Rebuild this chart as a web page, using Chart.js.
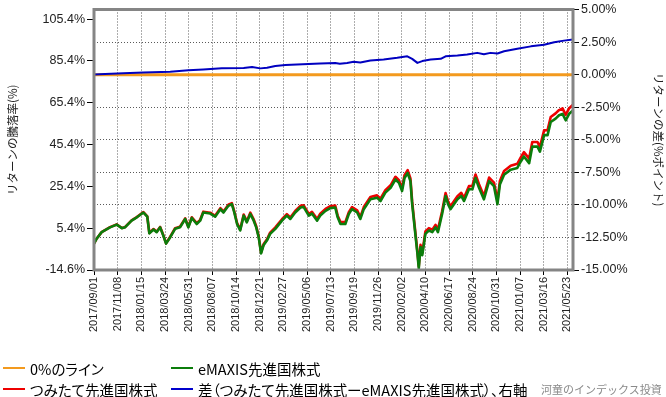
<!DOCTYPE html>
<html>
<head>
<meta charset="utf-8">
<script src="https://cdn.jsdelivr.net/npm/chart.js@4/dist/chart.umd.min.js"></script>
<style>
  html, body { margin: 0; padding: 0; background: #fff; }
  #wrap { position: relative; width: 666px; height: 397px; }
  .leg { position: absolute; display: flex; align-items: center; height: 18px;
         font-family: "Noto Sans CJK JP"; font-size: 14.5px; font-feature-settings: "palt";
         color: #000; white-space: nowrap; }
  .leg i { display: inline-block; width: 22px; height: 2px; margin-right: 5px; }
  #credit { position: absolute; left: 541px; top: 381px; font-family: "Noto Sans CJK JP";
            font-size: 11px; color: #8a8a8a; white-space: nowrap; }
</style>
</head>
<body>
<div id="wrap">
  <canvas id="c" width="666" height="397"></canvas>
  <div class="leg" style="left:3px;top:359px"><i style="background:#f39a1e"></i>0%のライン</div>
  <div class="leg" style="left:171px;top:359px"><i style="background:#0b7d0b"></i>eMAXIS先進国株式</div>
  <div class="leg" style="left:3px;top:380px"><i style="background:#ee0000"></i>つみたて先進国株式</div>
  <div class="leg" style="left:171px;top:380px"><i style="background:#0000cc"></i>差（つみたて先進国株式ーeMAXIS先進国株式）、右軸</div>
  <div id="credit">河童のインデックス投資</div>
</div>
<script>
// x axis: days since 2017/09/01, a label every 68 days
const tickDates = ['2017/09/01', '2017/11/08', '2018/01/15', '2018/03/24', '2018/05/31', '2018/08/07',
  '2018/10/14', '2018/12/21', '2019/02/27', '2019/05/06', '2019/07/13', '2019/09/19', '2019/11/26',
  '2020/02/02', '2020/04/10', '2020/06/17', '2020/08/24', '2020/10/31', '2021/01/07', '2021/03/16', '2021/05/23'];
const tickStep = 68;
const lastDay = 1376;

const leftTicks = [-14.6, 5.4, 25.4, 45.4, 65.4, 85.4, 105.4];
const rightTicks = [-15, -12.5, -10, -7.5, -5, -2.5, 0, 2.5, 5];

const stockDays = [0, 8, 22, 46, 65, 80, 89, 108, 123, 142,
  153, 159, 171, 180, 190, 199, 207, 219, 233, 247,
  262, 271, 281, 295, 305, 314, 334, 348, 363, 372,
  386, 396, 403, 411, 420, 430, 439, 449, 458, 466,
  473, 480, 487, 497, 506, 521, 540, 554, 564, 578,
  593, 602, 617, 626, 641, 650, 665, 679, 693, 700,
  708, 722, 732, 741, 756, 765, 775, 794, 813, 823,
  837, 852, 866, 876, 885, 892, 901, 909, 914, 919,
  924, 929, 933, 938, 943, 952, 962, 972, 981, 988,
  1000, 1010, 1017, 1024, 1034, 1044, 1055, 1063, 1077, 1087,
  1096, 1106, 1120, 1135, 1149, 1159, 1166, 1178, 1197, 1216,
  1226, 1235, 1250, 1259, 1274, 1281, 1293, 1303, 1312, 1326,
  1336, 1346, 1355, 1365, 1376];

// つみたて先進国株式 (%)
const tsumitate = [-2.0, 0.5, 3.5, 5.9, 7.2, 5.5, 5.9, 9.1, 10.7, 13.1,
  11.1, 3.1, 5.0, 3.7, 6.0, 2.1, -1.8, 1.3, 5.4, 6.1,
  10.1, 6.1, 10.6, 7.8, 9.4, 13.3, 12.8, 11.3, 15.0, 13.4,
  16.6, 17.4, 13.4, 7.9, 4.8, 11.9, 8.7, 12.8, 9.9, 6.3,
  1.6, -6.2, -2.3, 0.1, 3.3, 5.8, 9.7, 12.1, 10.5, 13.6,
  16.1, 16.4, 12.2, 13.2, 9.8, 12.3, 14.6, 15.9, 16.2, 11.4,
  8.3, 8.3, 13.1, 15.5, 13.9, 10.7, 15.5, 20.3, 21.1, 19.5,
  23.6, 25.9, 30.0, 28.4, 24.5, 30.8, 33.2, 29.2, 18.1, 10.1,
  2.1, -5.8, -12.9, -2.6, -6.5, 3.8, 5.4, 4.7, 7.0, 4.7,
  13.5, 22.2, 18.3, 15.9, 18.3, 20.7, 22.3, 19.9, 25.5, 25.6,
  31.1, 26.4, 20.8, 29.6, 27.2, 18.5, 28.0, 32.8, 35.3, 36.2,
  39.3, 41.8, 38.7, 46.6, 46.6, 44.3, 52.2, 52.3, 58.6, 60.3,
  61.9, 62.7, 59.6, 62.8, 64.4];

// eMAXIS先進国株式 (%)
const emaxis = [-2.0, 0.5, 3.5, 5.8, 7.1, 5.4, 5.8, 9.0, 10.6, 12.9,
  10.9, 2.9, 4.8, 3.5, 5.8, 1.9, -2.0, 1.1, 5.1, 5.8,
  9.8, 5.8, 10.3, 7.4, 9.0, 12.9, 12.4, 10.9, 14.5, 12.9,
  16.1, 16.9, 12.9, 7.4, 4.3, 11.4, 8.2, 12.2, 9.3, 5.8,
  1.1, -6.7, -2.8, -0.4, 2.7, 5.1, 9.0, 11.4, 9.8, 12.9,
  15.3, 15.6, 11.4, 12.4, 9.0, 11.4, 13.7, 15.0, 15.3, 10.6,
  7.4, 7.4, 12.2, 14.5, 12.9, 9.8, 14.5, 19.2, 20.0, 18.4,
  22.4, 24.7, 28.7, 27.1, 23.2, 29.4, 31.8, 27.9, 16.9, 9.0,
  1.1, -6.7, -13.8, -3.6, -7.5, 2.7, 4.3, 3.5, 5.8, 3.5,
  12.2, 20.8, 16.9, 14.5, 16.9, 19.2, 20.8, 18.4, 24.0, 24.0,
  29.4, 24.7, 19.2, 27.9, 25.5, 16.9, 26.3, 31.0, 33.4, 34.2,
  37.3, 39.7, 36.5, 44.4, 44.4, 42.0, 49.9, 49.9, 56.2, 57.8,
  59.4, 60.1, 57.0, 60.1, 61.7];

// 差 (%ポイント, right axis)
const diffDays = [0, 32, 84, 142, 219, 271, 314, 367, 430, 454,
  478, 497, 521, 550, 583, 650, 693, 706, 727, 746,
  765, 794, 832, 871, 900, 914, 929, 943, 967, 996,
  1010, 1044, 1072, 1101, 1120, 1139, 1159, 1178, 1216, 1255,
  1293, 1322, 1350, 1376];
const diffValues = [0.0, 0.05, 0.1, 0.17, 0.23, 0.33, 0.4, 0.48, 0.5, 0.58,
  0.48, 0.53, 0.66, 0.73, 0.78, 0.86, 0.9, 0.83, 0.9, 0.98,
  0.93, 1.08, 1.16, 1.29, 1.41, 1.21, 0.9, 1.04, 1.16, 1.21,
  1.41, 1.46, 1.54, 1.67, 1.57, 1.67, 1.62, 1.79, 1.99, 2.17,
  2.3, 2.48, 2.61, 2.69];

const zeroDays = [0, lastDay];
const zeroValues = [0, 0];

const pts = ( xs, ys ) => xs.map( ( x, i ) => ( { x, y: ys[ i ] } ) );

const framePlugin = {
    id: 'frame',
    afterDraw ( chart ) {
        const { ctx, chartArea: a } = chart;
        ctx.save();
        ctx.strokeStyle = '#858585';
        ctx.lineWidth = 3;
        ctx.strokeRect( a.left, a.top, a.right - a.left, a.bottom - a.top );
        ctx.restore();
    }
};

const tickFont = { family: 'Liberation Sans', size: 12.5 };
const titleFont = { family: 'Noto Sans CJK JP', size: 11.5 };

new Chart( document.getElementById( 'c' ), {
    type: 'line',
    data: {
        datasets: [
            { data: pts( zeroDays, zeroValues ), yAxisID: 'yR', borderColor: '#f39a1e', borderWidth: 3, order: 4 },
            { data: pts( stockDays, tsumitate ), yAxisID: 'yL', borderColor: '#ee0000', borderWidth: 2.6, order: 3 },
            { data: pts( stockDays, emaxis ), yAxisID: 'yL', borderColor: '#0b7d0b', borderWidth: 2.6, order: 2 },
            { data: pts( diffDays, diffValues ), yAxisID: 'yR', borderColor: '#0000c0', borderWidth: 2, order: 1 }
        ]
    },
    options: {
        responsive: false,
        animation: false,
        layout: { padding: { top: 6, left: 0, right: 0, bottom: 0 } },
        elements: { point: { radius: 0 }, line: { tension: 0, borderJoinStyle: 'round' } },
        plugins: { legend: { display: false }, tooltip: { enabled: false } },
        scales: {
            x: {
                type: 'linear', min: 0, max: lastDay,
                afterBuildTicks: ( s ) => { s.ticks = tickDates.map( ( t, i ) => ( { value: i * tickStep } ) ); },
                afterFit: ( s ) => { s.height = 127; },
                ticks: {
                    autoSkip: false, minRotation: 90, maxRotation: 90, padding: 2,
                    color: '#222', font: { family: 'Liberation Sans', size: 11 },
                    callback: ( v, i ) => tickDates[ i ]
                },
                grid: { color: '#5a5a5a', lineWidth: 1, tickLength: 5, tickColor: '#000' },
                border: { display: false, dash: [ 1, 2 ] }
            },
            yL: {
                position: 'left', min: -14.6, max: 110,
                afterBuildTicks: ( s ) => { s.ticks = leftTicks.map( v => ( { value: v } ) ); },
                afterFit: ( s ) => { s.width = 94; },
                ticks: { autoSkip: false, padding: 2, color: '#222', font: tickFont, callback: v => v.toFixed( 1 ) + '%' },
                grid: { drawOnChartArea: false, tickLength: 7, tickColor: '#000' },
                border: { display: false },
                title: { display: true, text: 'リターンの騰落率(%)', color: '#222', font: titleFont, padding: { top: 6, bottom: 0 } }
            },
            yR: {
                position: 'right', min: -15, max: 5,
                afterBuildTicks: ( s ) => { s.ticks = rightTicks.map( v => ( { value: v } ) ); },
                afterFit: ( s ) => { s.width = 93; },
                ticks: { autoSkip: false, padding: 2, color: '#222', font: tickFont, callback: v => v.toFixed( 2 ) + '%' },
                grid: { color: '#5a5a5a', lineWidth: 1, tickLength: 6, tickColor: '#000' },
                border: { display: false, dash: [ 1, 2 ] },
                title: { display: true, text: 'リターンの差(%ポイント)', color: '#222', font: titleFont, padding: { top: 1, bottom: 0 } }
            }
        }
    },
    plugins: [ framePlugin ]
} );
</script>
</body>
</html>
